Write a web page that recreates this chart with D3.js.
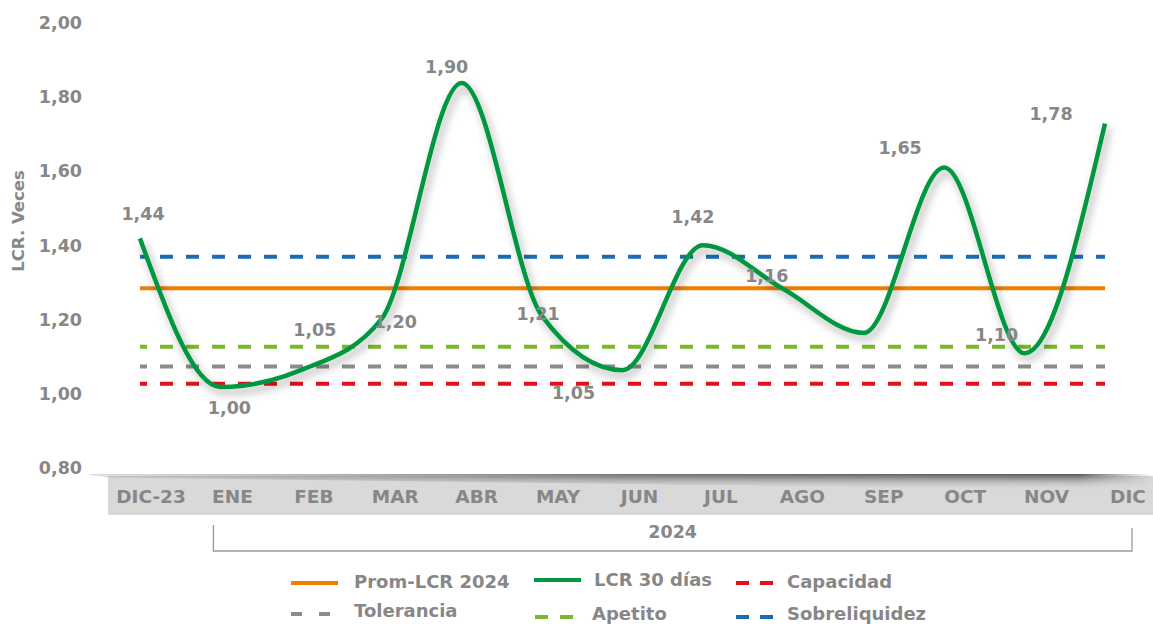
<!DOCTYPE html>
<html lang="es">
<head>
<meta charset="utf-8">
<title>LCR 30 días</title>
<script src="https://cdn.jsdelivr.net/npm/d3@7/dist/d3.min.js"></script>
<style>
  html, body { margin: 0; padding: 0; background: #ffffff; }
  svg { display: block; font-family: "DejaVu Sans", "Open Sans", sans-serif; }
</style>
</head>
<body>
<svg id="chart" width="1153" height="626"></svg>
<script>
// Months on the category axis
const months = ["DIC-23", "ENE", "FEB", "MAR", "ABR", "MAY", "JUN", "JUL", "AGO", "SEP", "OCT", "NOV", "DIC"];
// LCR 30 días (veces)
const lcr = [1.44, 1.00, 1.05, 1.20, 1.90, 1.21, 1.05, 1.42, 1.29, 1.16, 1.65, 1.10, 1.78];
// Value labels shown next to the line (null = not labelled)
const lcrLabels = ["1,44", "1,00", "1,05", "1,20", "1,90", "1,21", "1,05", "1,42", null, "1,16", "1,65", "1,10", "1,78"];
// Horizontal reference levels
const refNames  = ["Sobreliquidez", "Prom-LCR 2024", "Apetito", "Tolerancia", "Capacidad"];
const refValues = [1.37, 1.285, 1.127, 1.074, 1.027];
// Y axis ticks
const yTicks = [0.80, 1.00, 1.20, 1.40, 1.60, 1.80, 2.00];
const yearLabel = "2024";
const yTitle = "LCR. Veces";

const colors = {
  "LCR 30 días": "#00973f",
  "Prom-LCR 2024": "#f07d00",
  "Sobreliquidez": "#1b6cb4",
  "Apetito": "#79b82a",
  "Tolerancia": "#8c8c8c",
  "Capacidad": "#e2101a"
};
const textGray = "#878787";
const fmt = v => d3.format(".2f")(v).replace(".", ",");

const svg = d3.select("#chart");
const defs = svg.append("defs");

// soft shadow under the LCR line
const sh = defs.append("filter").attr("id", "lineShadow")
  .attr("x", "-10%").attr("y", "-10%").attr("width", "120%").attr("height", "130%");
sh.append("feDropShadow").attr("dx", 3).attr("dy", 5).attr("stdDeviation", 4)
  .attr("flood-color", "#000").attr("flood-opacity", 0.33);

// scales
const y = d3.scaleLinear().domain([0.8, 2.0]).range([468, 23]);
const yLine = d3.scaleLinear().domain([0.8, 2.0]).range([454.6, 49.2]);
const xLine = d3.scalePoint().domain(months).range([140, 1105]);
const xCat = d3.scalePoint().domain(months).range([151, 1128]);

const textStyle = (sel, size) => sel
  .attr("fill", textGray).attr("font-size", size).attr("font-weight", 700)
  .attr("font-family", "'DejaVu Sans', sans-serif");

// y axis tick labels
const yAxis = d3.axisLeft(y).tickValues(yTicks).tickFormat(fmt).tickSize(0).tickPadding(0);
const gy = svg.append("g").attr("transform", "translate(82,0)").call(yAxis);
gy.select(".domain").remove();
textStyle(gy.selectAll("text"), 17.5);

textStyle(svg.append("text")
  .attr("transform", "translate(24,221) rotate(-90)")
  .attr("text-anchor", "middle"), 16.5)
  .text(yTitle);

// category band
const band = svg.append("g");
band.append("rect").attr("x", 108).attr("y", 476).attr("width", 1045).attr("height", 39).attr("fill", "#d9d9d9");

const vg = defs.append("linearGradient").attr("id", "edgeV").attr("x1", 0).attr("y1", 0).attr("x2", 0).attr("y2", 1);
vg.append("stop").attr("offset", 0).attr("stop-color", "#4a4a4a").attr("stop-opacity", 0.95);
vg.append("stop").attr("offset", 1).attr("stop-color", "#d9d9d9").attr("stop-opacity", 0);
const hg = defs.append("linearGradient").attr("id", "edgeH").attr("gradientUnits", "userSpaceOnUse")
  .attr("x1", 90).attr("x2", 1153).attr("y1", 0).attr("y2", 0);
hg.append("stop").attr("offset", 0).attr("stop-color", "#fff").attr("stop-opacity", 0.2);
hg.append("stop").attr("offset", 0.5).attr("stop-color", "#fff").attr("stop-opacity", 0.85);
hg.append("stop").attr("offset", 0.93).attr("stop-color", "#fff").attr("stop-opacity", 1);
hg.append("stop").attr("offset", 1).attr("stop-color", "#fff").attr("stop-opacity", 0);
const mask = defs.append("mask").attr("id", "edgeMask");
mask.append("rect").attr("x", 0).attr("y", 440).attr("width", 1153).attr("height", 80).attr("fill", "url(#edgeH)");
band.append("path")
  .attr("d", "M90,474 L1153,474 L1153,490 L1110,490 L108,477.5 L90,475 Z")
  .attr("fill", "url(#edgeV)")
  .attr("mask", "url(#edgeMask)");

textStyle(band.selectAll("text.cat").data(months).join("text")
  .attr("class", "cat")
  .attr("x", d => xCat(d)).attr("y", 503)
  .attr("text-anchor", "middle"), 18.5)
  .text(d => d);

// year bracket
const bx0 = xCat("ENE") - 19, bx1 = xCat("DIC") + 4;
svg.append("path")
  .attr("d", `M${bx0},525 V551 H${bx1} V528`)
  .attr("fill", "none").attr("stroke", "#9a9a9a").attr("stroke-width", 1.3);
textStyle(svg.append("text")
  .attr("x", (bx0 + bx1) / 2).attr("y", 538).attr("text-anchor", "middle"), 17.5)
  .text(yearLabel);

// reference levels
const [lx0, lx1] = xLine.range();
svg.append("g").selectAll("line").data(refNames).join("line")
  .attr("x1", lx0).attr("x2", lx1)
  .attr("y1", (d, i) => y(refValues[i])).attr("y2", (d, i) => y(refValues[i]))
  .attr("stroke", d => colors[d]).attr("stroke-width", 4)
  .attr("stroke-dasharray", d => d === "Prom-LCR 2024" ? null : "13,13")
  .attr("stroke-dashoffset", 6);

// LCR line
const line = d3.line()
  .x((d, i) => xLine(months[i]))
  .y(d => yLine(d))
  .curve(d3.curveMonotoneX);
svg.append("path").datum(lcr)
  .attr("d", line)
  .attr("fill", "none")
  .attr("stroke", colors["LCR 30 días"])
  .attr("stroke-width", 4.5)
  .attr("filter", "url(#lineShadow)");

// value labels, nudged off the line
const nudge = [[3, -25], [9, 21], [14, -40], [14, 2], [-15, -16], [-4, -2], [-49, 23], [-10, -28], [0, 0], [-97, -57], [-44, -20], [-28, -18], [-54, -10]];
const labelled = lcr.map((v, i) => ({ v, i, text: lcrLabels[i] })).filter(d => d.text !== null);
textStyle(svg.append("g").selectAll("text").data(labelled).join("text")
  .attr("x", d => xLine(months[d.i]) + nudge[d.i][0])
  .attr("y", d => yLine(d.v) + nudge[d.i][1])
  .attr("dy", "0.35em")
  .attr("text-anchor", "middle"), 17.5)
  .text(d => d.text);

// legend
const legendItems = [
  { name: "Prom-LCR 2024", x: 291, len: 47, y: 583, ty: 582, dash: null, tx: 354 },
  { name: "LCR 30 días", x: 534, len: 47, y: 580, ty: 580, dash: null, tx: 594 },
  { name: "Capacidad", x: 736, len: 37, y: 583, ty: 582, dash: "13,11", tx: 787 },
  { name: "Tolerancia", x: 291, len: 40, y: 614, ty: 611, dash: "11,17", tx: 354 },
  { name: "Apetito", x: 535, len: 38, y: 617, ty: 614, dash: "13,12", tx: 592 },
  { name: "Sobreliquidez", x: 736, len: 37, y: 617, ty: 614, dash: "13,11", tx: 787 }
];
const lg = svg.append("g");
legendItems.forEach(it => {
  lg.append("line").attr("x1", it.x).attr("x2", it.x + it.len).attr("y1", it.y).attr("y2", it.y)
    .attr("stroke", colors[it.name]).attr("stroke-width", 4)
    .attr("stroke-dasharray", it.dash);
  textStyle(lg.append("text").attr("x", it.tx).attr("y", it.ty).attr("dy", "0.35em"), 18)
    .text(it.name);
});
</script>
</body>
</html>
